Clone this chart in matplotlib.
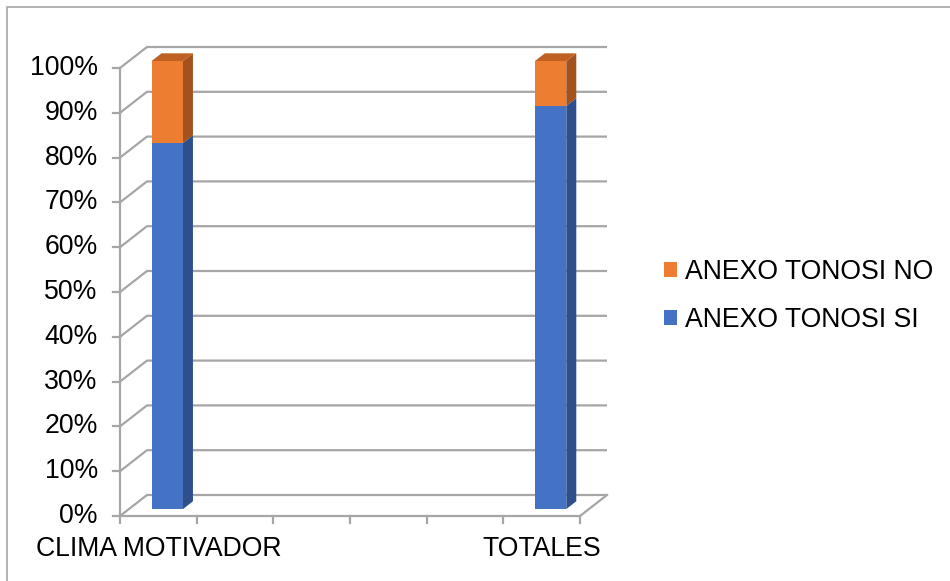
import numpy as np
import matplotlib.pyplot as plt
from matplotlib.patches import Polygon, Patch, Rectangle

plt.rcParams['font.family'] = ['Liberation Sans', 'DejaVu Sans']

# data (Excel sheet had 4 blank rows between the two categories)
categories = ["CLIMA MOTIVADOR", "", "", "", "", "TOTALES"]
si_pct = [81.7, np.nan, np.nan, np.nan, np.nan, 90.0]
no_pct = [18.3, np.nan, np.nan, np.nan, np.nan, 10.0]
series_names = ["ANEXO TONOSI SI", "ANEXO TONOSI NO"]
yticks = list(range(0, 101, 10))

W, H = 950, 581
FS = 19.2
fig = plt.figure(figsize=(W / 100, H / 100), dpi=100)

# front plane of the 3d box in pixels
x0px, x1px, y0px, y1px = 120, 580, 516, 68
ax = fig.add_axes([x0px / W, 1 - y0px / H, (x1px - x0px) / W, (y0px - y1px) / H])
n = len(categories)
ax.set_xlim(0, n)
ax.set_ylim(0, 100)
ax.axis('off')

# depth offset (data units)
DX = 27 / ((x1px - x0px) / n)
DY = 21 / ((y0px - y1px) / 100)

grid_c = '#a6a6a6'
lw = 1.6

# back wall gridlines + left diagonals
for v in yticks:
    ax.plot([0, DX, n + DX], [v, v + DY, v + DY], color=grid_c, lw=lw,
            clip_on=False, solid_capstyle='butt', zorder=1)
# floor
ax.plot([0, n, n + DX], [0, 0, DY], color=grid_c, lw=lw, clip_on=False, zorder=1)
# value axis + ticks
ax.plot([0, 0], [0, 100], color=grid_c, lw=lw, clip_on=False, zorder=1)
for v in yticks:
    ax.plot([-0.085, 0], [v, v], color=grid_c, lw=lw, clip_on=False, zorder=1)
    ax.text(-0.29, v, f"{v}%", ha='right', va='center', fontsize=FS, color='#000000')
# category ticks
for i in range(n + 1):
    ax.plot([i, i], [0, -1.5], color=grid_c, lw=lw, clip_on=False, zorder=1)
for i, c in enumerate(categories):
    if c:
        ax.text(i + 0.5, -4.4, c, ha='center', va='top', fontsize=FS, color='#000000')

# 3d bars
bar_w = 0.41
d0, d1 = 0.33, 0.70
faces = {
    'SI': ('#4472c4', '#2e4f8c', '#3a62aa'),
    'NO': ('#ed7d31', '#a3521e', '#bf6124'),
}


def box(xc, ylo, yhi, cols, top):
    front, side, topc = cols
    xl = xc - bar_w / 2 + d0 * DX
    xr = xc + bar_w / 2 + d0 * DX
    yl, yh = ylo + d0 * DY, yhi + d0 * DY
    ddx, ddy = (d1 - d0) * DX, (d1 - d0) * DY
    ax.add_patch(Polygon([(xr, yl), (xr + ddx, yl + ddy), (xr + ddx, yh + ddy), (xr, yh)],
                         closed=True, fc=side, ec='none', zorder=3, clip_on=False))
    ax.add_patch(Polygon([(xl, yl), (xr, yl), (xr, yh), (xl, yh)],
                         closed=True, fc=front, ec='none', zorder=4, clip_on=False))
    if top:
        ax.add_patch(Polygon([(xl, yh), (xr, yh), (xr + ddx, yh + ddy), (xl + ddx, yh + ddy)],
                             closed=True, fc=topc, ec='none', zorder=3, clip_on=False))


for i in range(n):
    si, no = si_pct[i], no_pct[i]
    if np.isnan(si):
        continue
    xc = i + 0.5
    box(xc, 0, si, faces['SI'], False)
    box(xc, si, si + no, faces['NO'], True)

handles = [Patch(fc=faces['NO'][0], ec='none', label=series_names[1]),
           Patch(fc=faces['SI'][0], ec='none', label=series_names[0])]
fig.legend(handles=handles, loc='center left', bbox_to_anchor=(664 / W, 1 - 296 / H),
           frameon=False, fontsize=FS, handlelength=0.5, handleheight=0.5,
           handletextpad=0.3, labelspacing=0.85, borderpad=0, borderaxespad=0)

# outer chart border
fig.add_artist(Rectangle((7 / W, -0.01), 1, 1 - 7 / H + 0.01, transform=fig.transFigure,
                         fill=False, ec='#a6a6a6', lw=1.2))

fig.savefig('out.png', dpi=100, facecolor='white')
